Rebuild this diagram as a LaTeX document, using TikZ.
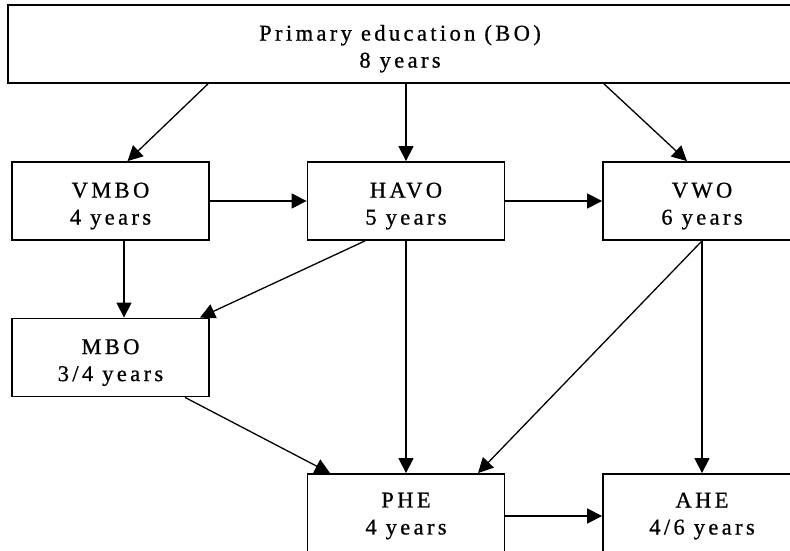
\documentclass[tikz,border=0pt]{standalone}
\usepackage{fontspec}
\setmainfont{Liberation Serif}[LetterSpace=15,FakeBold=0.8]
\usetikzlibrary{arrows.meta}
\newcommand{\lowstrut}{\rule{0pt}{25pt}}
\begin{document}
\begin{tikzpicture}[x=1pt,y=-1pt,
  box/.style={draw,line width=1.8pt,rectangle,minimum width=197pt,minimum height=78pt,
    inner sep=0pt,align=center,font=\fontsize{22.5}{27}\selectfont},
  conn/.style={line width=1.3pt,-{Triangle[length=15pt,width=15pt]}}]
\useasboundingbox (0,0) rectangle (790,551);
\clip (0,0) rectangle (790,551);
\node[box,minimum width=784pt] (top) at (400,44) {\lowstrut Primary education (BO)\\8 years};
\node[box] (vmbo) at (110.5,201) {\lowstrut VMBO\\4 years};
\node[box] (havo) at (406,201) {\lowstrut HAVO\\5 years};
\node[box,minimum width=198pt] (vwo) at (702,201) {\lowstrut VWO\\6 years};
\node[box] (mbo) at (110.5,357.5) {\lowstrut MBO\\3/4 years};
\node[box,minimum height=84pt] (phe) at (406,516) {PHE\\4 years};
\node[box,minimum width=198pt,minimum height=84pt] (ahe) at (702,516) {AHE\\4/6 years};
\draw[conn] ([xshift=-192pt]top.south) -- ([xshift=17pt]vmbo.north);
\draw[conn] (top.south -| havo.north) -- (havo.north);
\draw[conn] ([xshift=204pt]top.south) -- ([xshift=-15pt]vwo.north);
\draw[conn] (vmbo.east) -- (havo.west);
\draw[conn] (havo.east) -- (vwo.west);
\draw[conn] ([xshift=13.5pt]vmbo.south) -- ([xshift=13.5pt]mbo.north);
\draw[conn] ([xshift=-41pt]havo.south) -- ([xshift=89.5pt]mbo.north);
\draw[conn] (havo.south) -- (phe.north);
\draw[conn] (vwo.south) -- ([xshift=72pt]phe.north);
\draw[conn] (vwo.south) -- (ahe.north);
\draw[conn] ([xshift=74.5pt]mbo.south) -- ([xshift=-76pt]phe.north);
\draw[conn] (phe.east) -- (ahe.west);
\end{tikzpicture}
\end{document}
